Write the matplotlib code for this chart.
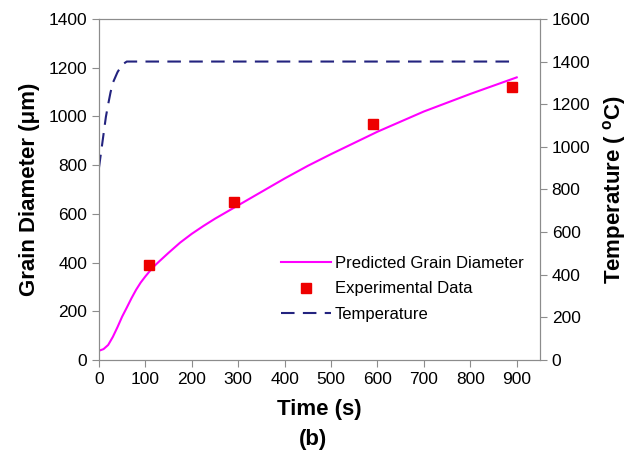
import matplotlib.pyplot as plt
import numpy as np

plt.rcParams['font.family'] = ['Liberation Sans', 'DejaVu Sans']
plt.rcParams['mathtext.fontset'] = 'custom'
plt.rcParams['mathtext.rm'] = 'Liberation Sans'
plt.rcParams['mathtext.bf'] = 'Liberation Sans:bold'

# predicted grain diameter (um)
t_pred = [0, 10, 20, 30, 40, 50, 60, 70, 80, 90, 100, 110, 120, 130, 150,
          175, 200, 225, 250, 300, 350, 400, 450, 500, 600, 700, 800, 900]
d_pred = [38, 45, 62, 95, 135, 178, 215, 253, 288, 318, 343, 366, 387, 405,
          440, 482, 518, 550, 580, 635, 690, 745, 797, 845, 937, 1020, 1092,
          1160]

# experimental data
t_exp = [108, 290, 590, 890]
d_exp = [390, 650, 970, 1120]

# temperature (C)
t_temp = [0, 5, 10, 15, 20, 25, 30, 40, 50, 60, 900]
temp = [900, 980, 1060, 1140, 1200, 1255, 1300, 1350, 1385, 1400, 1400]

grey = '#8c8c8c'

fig = plt.figure(figsize=(6.3, 4.61), dpi=100)
ax = fig.add_axes([0.157, 0.219, 0.70, 0.740])
ax2 = ax.twinx()

l1, = ax.plot(t_pred, d_pred, color='#ff00ff', lw=1.5,
              label='Predicted Grain Diameter')
l2, = ax.plot(t_exp, d_exp, 's', color='#ee0000', ms=7, mec='#ee0000',
              ls='none', label='Experimental Data')
l3, = ax2.plot(t_temp, temp, color='#23237f', lw=1.5, dashes=(6.5, 4),
               label='Temperature')

ax.set_xlim(0, 950)
ax.set_ylim(0, 1400)
ax2.set_ylim(0, 1600)
ax.set_xticks(np.arange(0, 901, 100))
ax.set_yticks(np.arange(0, 1401, 200))
ax2.set_yticks(np.arange(0, 1601, 200))

for a in (ax, ax2):
    for s in a.spines.values():
        s.set_color(grey)
    a.tick_params(colors=grey, labelcolor='black', labelsize=12.5,
                  direction='out', length=5)

ax.set_xlabel('Time (s)', fontsize=16, fontweight='bold', labelpad=9)
ax.set_ylabel('Grain Diameter (\u03bcm)', fontsize=16, fontweight='bold',
              labelpad=6)
ax2.set_ylabel(r'Temperature ( $\mathbf{^o}$C)', fontsize=16,
               fontweight='bold', labelpad=8)

ax2.legend(handles=[l1, l2, l3], loc='upper left',
           bbox_to_anchor=(0.38, 0.35), frameon=False, fontsize=12,
           handlelength=3.0, handletextpad=0.2, labelspacing=0.65)

fig.text(0.497, 0.035, '(b)', ha='center', fontsize=16, fontweight='bold')

fig.savefig('out.png', dpi=100, facecolor='white')
